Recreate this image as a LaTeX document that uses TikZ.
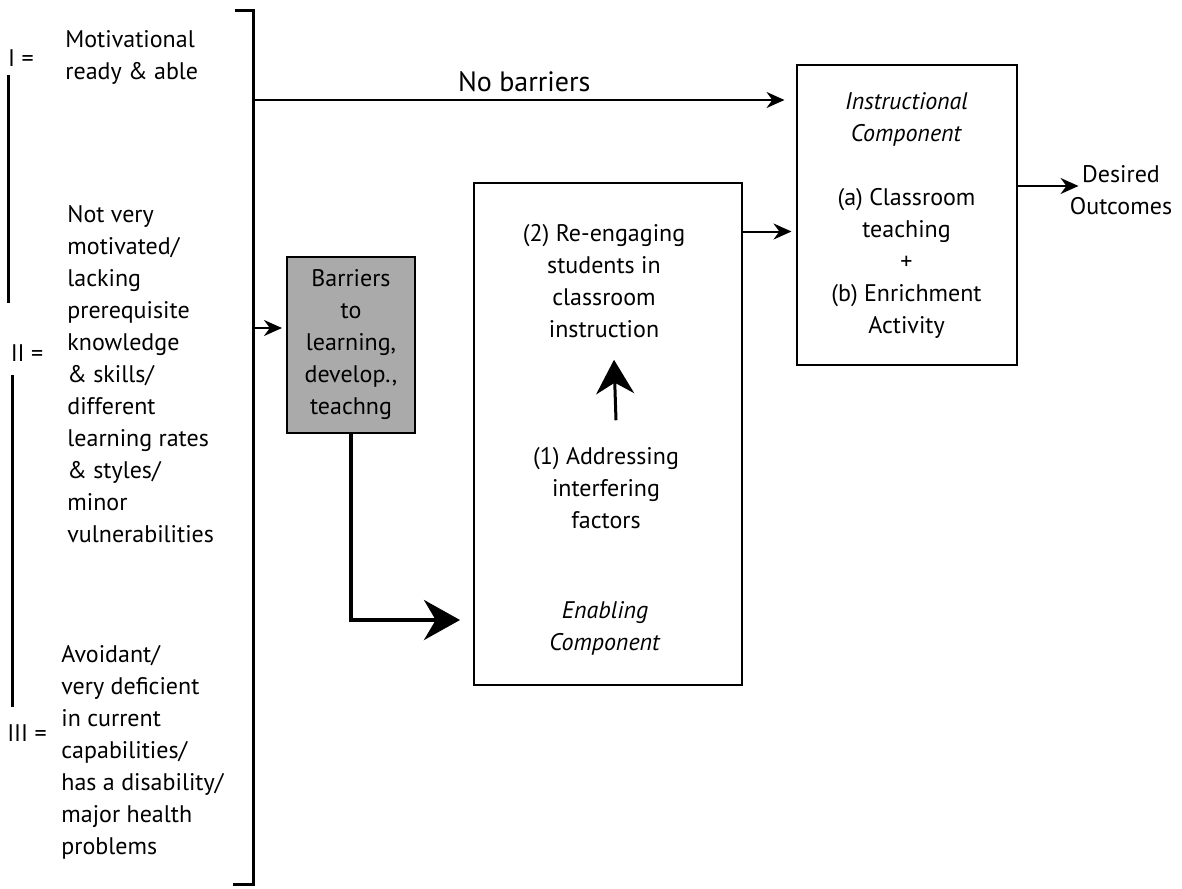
\documentclass[tikz,border=0pt]{standalone}
\usepackage{fontspec}
\setmainfont{PT Sans}
\usepackage{tikz}
\usetikzlibrary{arrows.meta, positioning, shapes}

\definecolor{barriergray}{RGB}{170,170,170}

\begin{document}
\begin{tikzpicture}[x=0.5pt, y=-0.5pt,
	every node/.style={font=\fontsize{12}{16}\selectfont},
	box/.style={draw, line width=1pt, align=center, inner sep=0pt},
	words/.style={align=left, inner sep=0pt, anchor=north west},
	thin/.style={draw, line width=1pt, -{Stealth[length=9pt, width=8pt]}},
	heavy/.style={draw, line width=2pt, -{Stealth[length=18pt, width=20pt]}},
	rule/.style={draw, line width=1.5pt}
]

\useasboundingbox (0,0) rectangle (1182,888);

% student groups on the left
\node [inner sep=0pt] (g1) at (21,58) {I =};
\node [inner sep=0pt] (g2) at (27,353) {II =};
\node [inner sep=0pt] (g3) at (27,733) {III =};

\node [words] (t1) at (65,30) {
	Motivational \\
	ready \& able
};

\node [words] (t2) at (67,205) {
	Not very \\
	motivated/ \\
	lacking \\
	prerequisite \\
	knowledge \\
	\& skills/ \\
	different \\
	learning rates \\
	\& styles/ \\
	minor \\
	vulnerabilities
};

\node [words] (t3) at (61,645) {
	Avoidant/ \\
	very deficient \\
	in current \\
	capabilities/ \\
	has a disability/ \\
	major health \\
	problems
};

\path [rule] (8,75) -- (8,303);
\path [rule] (12,375) -- (12,707);
\path [rule] (235,11) -- (253,11) -- (253,884) -- (233,884);

\coordinate (b1) at (253,100);
\coordinate (b2) at (253,328);

% boxes
\node [box, fill=barriergray, minimum width=64pt, minimum height=88pt] (1) at (351,345) {
	Barriers \\
	to \\
	learning, \\
	develop., \\
	teachng
};

\node [box, minimum width=134pt, minimum height=251pt] (2) at (607.5,433.5) {};

\node [align=center] (2a) at (604,281) {
	(2) Re-engaging \\
	students in \\
	classroom \\
	instruction
};

\node [align=center] (2b) at (606,488) {
	(1) Addressing \\
	interfering \\
	factors
};

\node [align=center] (2c) at (605,628) {
	\textit{Enabling} \\
	\textit{Component}
};

\node [box, minimum width=110pt, minimum height=150pt] (3) at (906.5,215) {
	\textit{Instructional} \\
	\textit{Component} \\[16pt]
	(a) Classroom \\
	teaching \\
	+ \\
	(b) Enrichment \\
	Activity
};

\node [align=center, inner sep=0pt] (4) at (1121,190) {
	Desired \\
	Outcomes
};

\coordinate (5) at (460,620);

% connectors
\path [thin, shorten >=5.5pt] (b1) -- node [above, font=\fontsize{14}{16}\selectfont] (nb) {No barriers} (b1 -| 3.west);
\path [thin, shorten >=2pt] (b2) -- (b2 -| 1.west);
\path [heavy] (1.south) |- (5);
\path [draw, line width=1.5pt, -{Stealth[length=17pt, width=19pt]}] ([xshift=5pt, yshift=10pt]2b.north) -- ([xshift=5pt, yshift=-7.5pt]2a.south);
\path [thin, shorten >=2pt] ([yshift=-25pt]2.north east) -- ([yshift=-25pt]2.north east -| 3.west);
\path [thin] ([yshift=-61pt]3.north east) -- ([xshift=4.5pt, yshift=-61pt]3.north east -| 4.west);

\end{tikzpicture}
\end{document}
